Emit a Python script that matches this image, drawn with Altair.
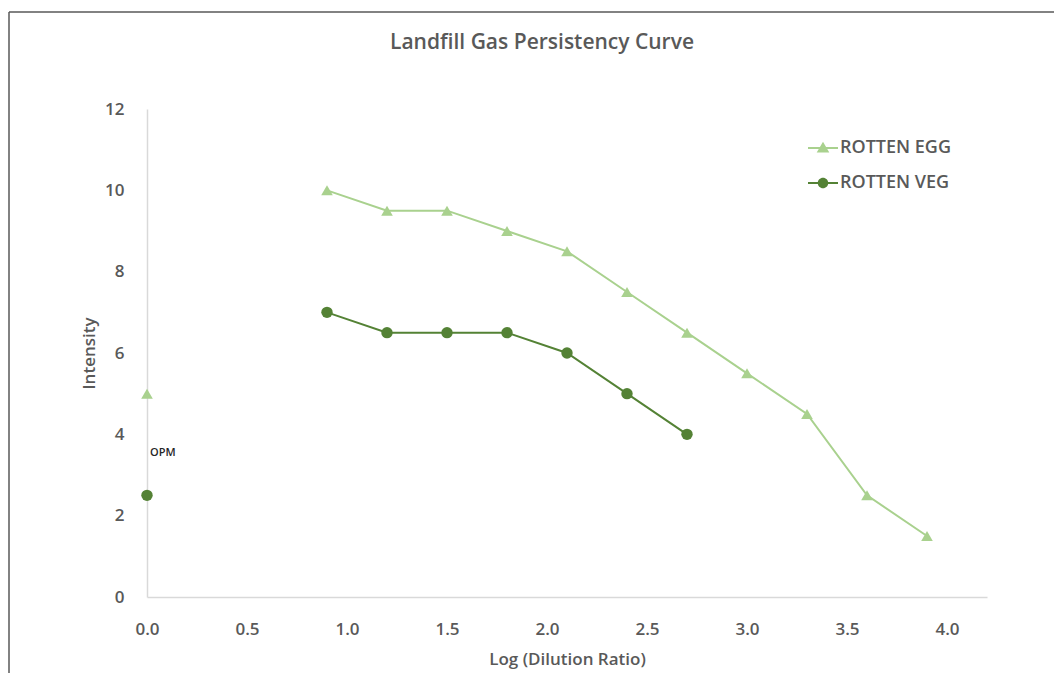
import altair as alt
import pandas as pd

# ---- data ----
egg_x = [0.0, 0.9, 1.2, 1.5, 1.8, 2.1, 2.4, 2.7, 3.0, 3.3, 3.6, 3.9]
egg_y = [5.0, 10.0, 9.5, 9.5, 9.0, 8.5, 7.5, 6.5, 5.5, 4.5, 2.5, 1.5]
egg_seg = ["opm", "curve", "curve", "curve", "curve", "curve", "curve", "curve", "curve", "curve", "curve", "curve"]
veg_x = [0.0, 0.9, 1.2, 1.5, 1.8, 2.1, 2.4, 2.7]
veg_y = [2.5, 7.0, 6.5, 6.5, 6.5, 6.0, 5.0, 4.0]
veg_seg = ["opm", "curve", "curve", "curve", "curve", "curve", "curve", "curve"]
series = ["ROTTEN EGG", "ROTTEN VEG"]
colors = ["#A9D18E", "#548235"]
note_text = ["OPM"]
note_x = [0.015]
note_y = [3.55]
title_text = ["Landfill Gas Persistency Curve"]

rows = []
for x, y, s in zip(egg_x, egg_y, egg_seg):
    rows.append({"x": x, "y": y, "series": series[0], "seg": series[0] + s})
for x, y, s in zip(veg_x, veg_y, veg_seg):
    rows.append({"x": x, "y": y, "series": series[1], "seg": series[1] + s})
df = pd.DataFrame(rows)
notes = pd.DataFrame({"text": note_text, "x": note_x, "y": note_y})
legend_df = pd.DataFrame({"series": series})
title_df = pd.DataFrame({"text": title_text})

FONT = "Open Sans"
GRAY = "#595959"

xscale = alt.Scale(domain=[0, 4.2], nice=False, zero=True)
yscale = alt.Scale(domain=[0, 12], nice=False)
cscale = alt.Scale(domain=series, range=colors)

xenc = alt.X("x:Q", scale=xscale, title="Log (Dilution Ratio)",
             axis=alt.Axis(values=[0, 0.5, 1, 1.5, 2, 2.5, 3, 3.5, 4], format=".1f",
                           grid=False, ticks=False, domainColor="#D9D9D9", domainWidth=1.5,
                           labelFlush=False,
                           labelFont=FONT, labelFontSize=17, labelFontWeight=600, labelColor=GRAY,
                           labelPadding=24, titleFont=FONT, titleFontSize=17, titleFontWeight=600,
                           titleColor=GRAY, titlePadding=14))
yenc = alt.Y("y:Q", scale=yscale, title="Intensity",
             axis=alt.Axis(values=[0, 2, 4, 6, 8, 10, 12], grid=False, ticks=False,
                           domainColor="#D9D9D9", domainWidth=1.5, labelFlush=False,
                           labelFont=FONT, labelFontSize=17, labelFontWeight=600, labelColor=GRAY,
                           labelPadding=23, titleFont=FONT, titleFontSize=17, titleFontWeight=600,
                           titleColor=GRAY, titlePadding=6))

frame_src = pd.DataFrame({"a": [0]})
frame_top = alt.Chart(frame_src).mark_rule(stroke="#595959", strokeWidth=1.5, clip=False).encode(
    x=alt.value(-138), x2=alt.value(930), y=alt.value(-97))
frame_left = alt.Chart(frame_src).mark_rule(stroke="#595959", strokeWidth=1.5, clip=False).encode(
    x=alt.value(-138), y=alt.value(-97), y2=alt.value(600))

title = alt.Chart(title_df).mark_text(font=FONT, fontSize=21, fontWeight=600, color=GRAY,
                                      align="center", baseline="middle").encode(
    x=alt.value(395), y=alt.value(-66), text="text:N")

lines = alt.Chart(df).mark_line(strokeWidth=2).encode(
    x=xenc, y=yenc, color=alt.Color("series:N", scale=cscale, legend=None),
    detail="seg:N", order="x:Q")

points = alt.Chart(df).mark_point(filled=True, opacity=1).encode(
    x=xenc, y=yenc,
    color=alt.Color("series:N", scale=cscale, legend=None),
    shape=alt.Shape("series:N", scale=alt.Scale(domain=series, range=["triangle-up", "circle"]), legend=None),
    size=alt.Size("series:N", scale=alt.Scale(domain=series, range=[135, 130]), legend=None),
)

bar = "M-1,-0.065H1V0.065H-1Z"
tri_path = bar + "M0,-0.42L0.42,0.3L-0.42,0.3Z"
circ_path = bar + "M-0.35,0A0.35,0.35 0 1,1 0.35,0A0.35,0.35 0 1,1 -0.35,0Z"

leg = dict(title=None, orient="none", legendX=661, legendY=24,
           labelFont=FONT, labelFontSize=18, labelFontWeight=600,
           labelColor=GRAY, symbolSize=900, symbolStrokeWidth=0,
           symbolOpacity=1, rowPadding=11, labelOffset=2)

legend_layer = alt.Chart(legend_df).mark_point(filled=True, opacity=0).encode(
    x=alt.value(0), y=alt.value(0),
    color=alt.Color("series:N", scale=cscale, legend=alt.Legend(**leg)),
    shape=alt.Shape("series:N", scale=alt.Scale(domain=series, range=[tri_path, circ_path]),
                    legend=alt.Legend(**leg)),
)

note = alt.Chart(notes).mark_text(align="left", baseline="middle", font=FONT, fontSize=11,
                                  fontWeight=600, color="#262626").encode(
    x=alt.X("x:Q", scale=xscale), y=alt.Y("y:Q", scale=yscale), text="text:N")

chart = alt.layer(frame_top, frame_left, title, lines, points, note, legend_layer).resolve_scale(
    color="independent", shape="independent", size="independent"
).properties(
    width=840, height=488,
    autosize=alt.AutoSizeParams(type="none"),
    padding={"left": 139, "top": 101, "right": 67, "bottom": 76},
).configure_view(stroke=None)

chart.save("out.html", embed_options={"renderer": "svg", "actions": False})
